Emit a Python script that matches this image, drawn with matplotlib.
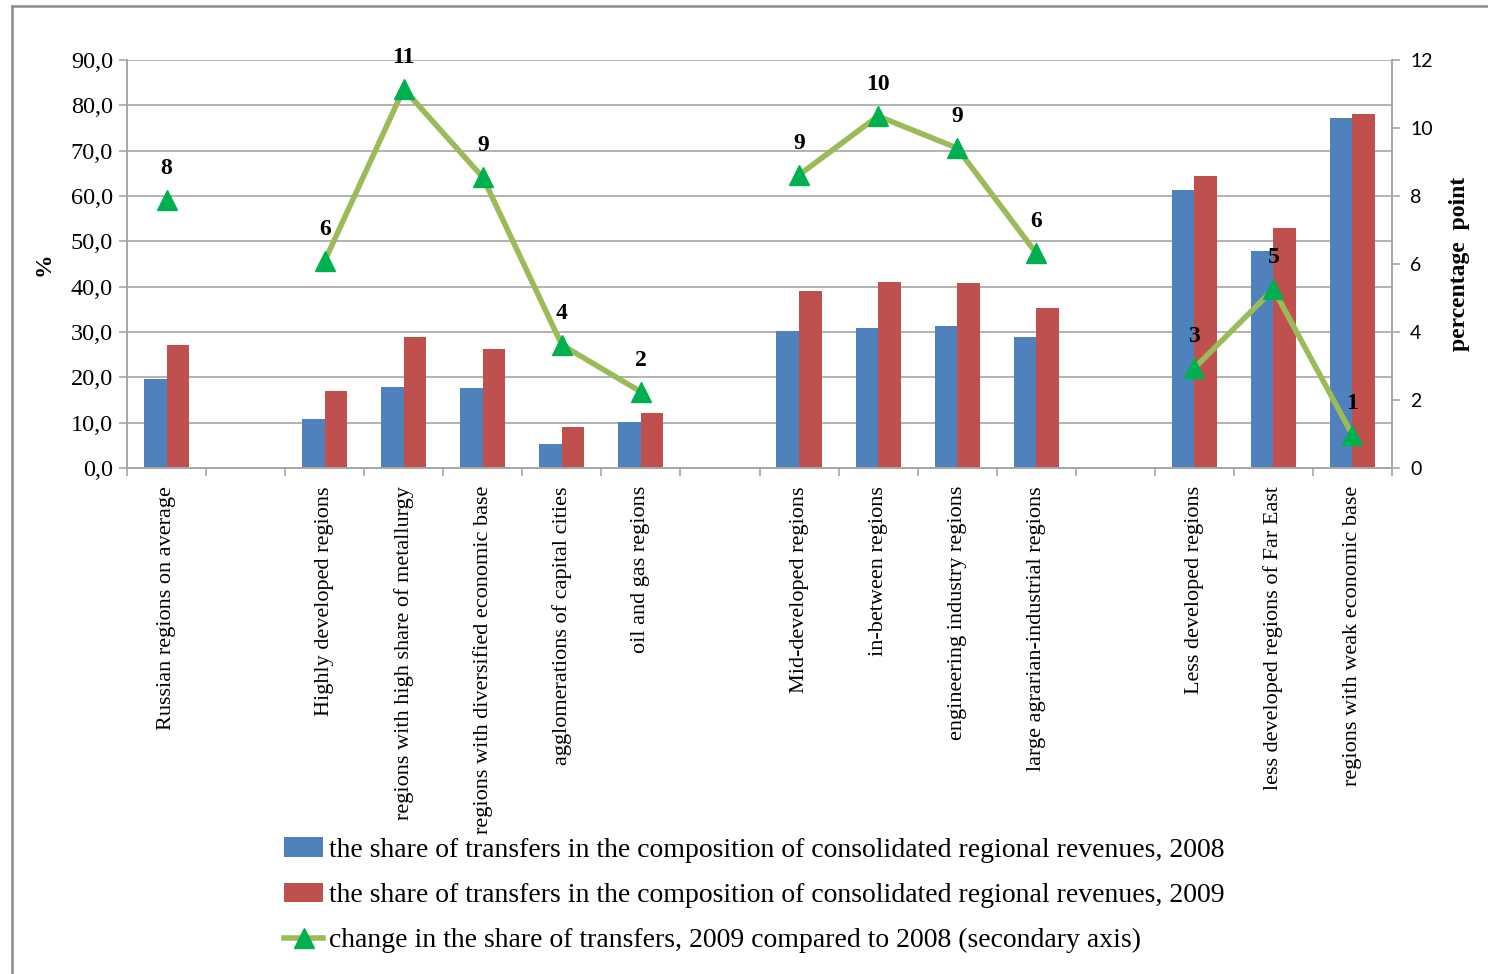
import numpy as np
import matplotlib
matplotlib.use('Agg')
import matplotlib.pyplot as plt
from matplotlib.lines import Line2D

plt.rcParams['font.family'] = ['Liberation Serif', 'DejaVu Serif']

# категории (пустые строки = промежутки между группами)
categories = ['Russian regions on average', '',
              'Highly developed regions', 'regions with high share of metallurgy',
              'regions with diversified economic base', 'agglomerations of capital cities',
              'oil and gas regions', '',
              'Mid-developed regions', 'in-between regions',
              'engineering industry regions', 'large agrarian-industrial regions', '',
              'Less developed regions', 'less developed regions of Far East',
              'regions with weak economic base']

share_2008 = [19.6, np.nan, 10.8, 17.8, 17.6, 5.3, 10.1, np.nan,
              30.2, 30.9, 31.3, 29.0, np.nan, 61.3, 47.8, 77.2]
share_2009 = [27.2, np.nan, 17.0, 29.0, 26.2, 9.0, 12.2, np.nan,
              39.0, 41.1, 40.8, 35.4, np.nan, 64.4, 53.0, 78.1]
change = [7.88, np.nan, 6.09, 11.15, 8.55, 3.62, 2.24, np.nan,
          8.62, 10.35, 9.41, 6.32, np.nan, 2.94, 5.26, 0.97]

legend_labels = ['the share of transfers in the composition of consolidated regional revenues, 2008',
                 'the share of transfers in the composition of consolidated regional revenues, 2009',
                 'change in the share of transfers, 2009 compared to 2008 (secondary axis)']

blue = '#4F81BD'
red = '#C0504D'
line_col = '#9BBB59'
marker_col = '#00B050'
grid_col = '#A6A6A6'

fig = plt.figure(figsize=(14.88, 9.74), dpi=100)
ax = fig.add_axes([127 / 1488, 1 - 468 / 974, (1392 - 127) / 1488, (468 - 60) / 974])
ax2 = ax.twinx()

x = np.arange(len(categories))
w = 0.285
b1 = ax.bar(x - w / 2, share_2008, w, color=blue, label=legend_labels[0], zorder=2)
b2 = ax.bar(x + w / 2, share_2009, w, color=red, label=legend_labels[1], zorder=2)

ax.set_xlim(-0.5, len(categories) - 0.5)
ax.set_ylim(0, 90)
ax.set_yticks(np.arange(0, 91, 10))
ax.set_yticklabels([f'{v:.1f}'.replace('.', ',') for v in np.arange(0, 91, 10)], fontsize=17.5)
ax.yaxis.grid(True, color=grid_col, linewidth=1.2, zorder=0)
ax.set_axisbelow(True)

ax.set_xticks(x)
ax.set_xticklabels(categories, rotation=90, fontsize=16, va='top')
ax.tick_params(axis='x', which='major', length=0, pad=13)
ax.set_xticks(np.arange(-0.5, len(categories)), minor=True)
ax.tick_params(axis='x', which='minor', length=6, color=grid_col, width=1.2)
ax.tick_params(axis='y', length=6, color=grid_col, width=1.2, pad=4)

for s in ['top']:
    ax.spines[s].set_visible(False)
    ax2.spines[s].set_visible(False)
for s in ['left', 'bottom', 'right']:
    ax.spines[s].set_color(grid_col)
    ax2.spines[s].set_color(grid_col)
    ax.spines[s].set_linewidth(1.2)
    ax2.spines[s].set_linewidth(1.2)

ax.set_ylabel('%', fontsize=17, fontweight='bold', labelpad=12)

# вторичная ось: изменение доли трансфертов
ln, = ax2.plot(x, change, color=line_col, linewidth=4, marker='^', markersize=15,
               markerfacecolor=marker_col, markeredgecolor=marker_col,
               label=legend_labels[2], zorder=3)
ax2.set_ylim(0, 12)
ax2.set_yticks(np.arange(0, 13, 2))
ax2.set_yticklabels([str(v) for v in range(0, 13, 2)], fontsize=14, family='Lato')
ax2.tick_params(axis='y', length=6, color=grid_col, width=1.2, pad=7)
ax2.set_ylabel('percentage  point', fontsize=17, fontweight='bold', labelpad=12)

for xi, v in zip(x, change):
    if np.isnan(v):
        continue
    ax2.annotate(str(int(np.floor(v + 0.5))), (xi, v), xytext=(0, 15), textcoords='offset points',
                 ha='center', va='bottom', fontsize=17, fontweight='bold', zorder=4)

leg = fig.legend(handles=[b1, b2, ln], loc='upper left', bbox_to_anchor=(273 / 1488, 1 - 826 / 974),
                 frameon=False, fontsize=20, handlelength=1.4, handletextpad=0.2,
                 labelspacing=0.72, borderaxespad=0)

# рамка вокруг диаграммы
fig.add_artist(Line2D([12 / 1488, 12 / 1488], [0, 1 - 6 / 974], color='#8C8C8C', linewidth=1.8))
fig.add_artist(Line2D([12 / 1488, 1], [1 - 6 / 974, 1 - 6 / 974], color='#8C8C8C', linewidth=1.8))

fig.savefig('out.png', dpi=100)
